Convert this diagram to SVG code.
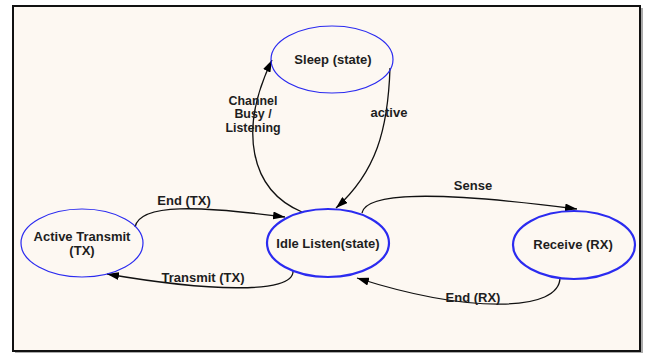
<svg xmlns="http://www.w3.org/2000/svg" width="646" height="353" viewBox="0 0 646 353">
<style>
.st{fill:none;stroke:#2b2bf0}
.thin{stroke-width:1.2}
.thick{stroke-width:2.2}
.t{font-family:"Liberation Sans",Arial,sans-serif;font-weight:bold;font-size:13px;fill:#1e1e1e;text-anchor:middle}
.s{font-size:12.4px}
.c{fill:none;stroke:#111;stroke-width:1.3}
</style>
<defs>
<marker id="ah" viewBox="0 0 12 8" refX="12" refY="4" markerWidth="12" markerHeight="8" markerUnits="userSpaceOnUse" orient="auto">
<path d="M0,0 L12,4 L0,8 Z" fill="#000"/>
</marker>
</defs>
<rect x="0" y="0" width="646" height="353" fill="#fff"/>
<rect x="15" y="8" width="628" height="345" fill="#aaa"/>
<rect x="13" y="6" width="627" height="345" fill="#fdf8f2" stroke="#111" stroke-width="2"/>
<g id="connectors">
<path class="c" d="M302,212 C250,190 238,130 272,60" marker-end="url(#ah)"/>
<path class="c" d="M390,68 C388,130 376,172 336,208" marker-end="url(#ah)"/>
<path class="c" d="M135,227 C140,203 200,206 285,217" marker-end="url(#ah)"/>
<path class="c" d="M293,270 C296,296 200,290 107,274" marker-end="url(#ah)"/>
<path class="c" d="M362,213 C366,193 430,190 577,209" marker-end="url(#ah)"/>
<path class="c" d="M560,277 C561,312 470,314 357,278" marker-end="url(#ah)"/>
<text class="t s" x="253" y="104.8">Channel</text>
<text class="t s" x="253" y="118.4">Busy /</text>
<text class="t s" x="253" y="132">Listening</text>
<text class="t" x="389" y="116.5">active</text>
<text class="t" x="184" y="204.5">End (TX)</text>
<text class="t" x="203" y="281.5">Transmit (TX)</text>
<text class="t" x="473" y="189.5">Sense</text>
<text class="t" x="473" y="301.5">End (RX)</text>
</g>
<g id="sleep">
<ellipse class="st thin" cx="332" cy="59.5" rx="61" ry="33.5"/>
<text class="t" x="333" y="63.5">Sleep (state)</text>
</g>
<g id="active-transmit">
<ellipse class="st thin" cx="82" cy="243" rx="61" ry="34"/>
<text class="t" x="82" y="240.5">Active Transmit</text>
<text class="t" x="82" y="254.5">(TX)</text>
</g>
<g id="idle-listen">
<ellipse class="st thick" cx="328" cy="243" rx="61" ry="34"/>
<text class="t" x="328" y="247.5">Idle Listen(state)</text>
</g>
<g id="receive">
<ellipse class="st thick" cx="574" cy="245" rx="61" ry="34"/>
<text class="t" x="573" y="248.5">Receive (RX)</text>
</g>
</svg>
